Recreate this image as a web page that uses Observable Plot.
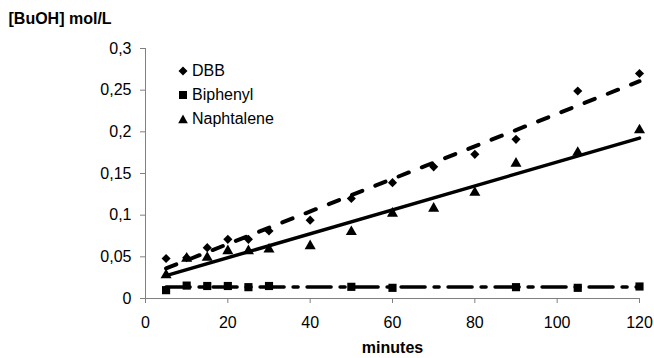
<!DOCTYPE html>
<html>
<head>
<meta charset="utf-8">
<script src="https://cdn.jsdelivr.net/npm/d3@7"></script>
<script src="https://cdn.jsdelivr.net/npm/@observablehq/plot@0.6"></script>
<style>
  html, body { margin: 0; padding: 0; background: #fff; }
  #wrap { position: relative; width: 654px; height: 358px; font-family: "Liberation Sans", Arial, sans-serif; }
  #legend { position: absolute; left: 178px; top: 59px; font-size: 16px; color: #000; }
  #legend .row { display: flex; align-items: center; height: 24px; }
  #legend svg { margin-right: 4px; }
</style>
</head>
<body>
<div id="wrap"><div id="legend"></div></div>
<script>
const minutesDBB = [5, 10, 15, 20, 25, 30, 40, 50, 60, 70, 80, 90, 105, 120];
const valuesDBB = [0.048, 0.049, 0.061, 0.071, 0.071, 0.081, 0.094, 0.120, 0.139, 0.158, 0.173, 0.191, 0.249, 0.270];

const minutesBiphenyl = [5, 10, 15, 20, 25, 30, 50, 60, 90, 105, 120];
const valuesBiphenyl = [0.010, 0.0155, 0.015, 0.015, 0.0136, 0.015, 0.014, 0.0128, 0.0136, 0.0128, 0.0144];

const minutesNaph = [5, 10, 15, 20, 25, 30, 40, 50, 60, 70, 80, 90, 105, 120];
const valuesNaph = [0.028, 0.048, 0.049, 0.057, 0.057, 0.059, 0.063, 0.080, 0.102, 0.108, 0.127, 0.162, 0.175, 0.202];

const seriesNames = ["DBB", "Biphenyl", "Naphtalene"];
const xTicks = [0, 20, 40, 60, 80, 100, 120];
const yTicks = [0, 0.05, 0.1, 0.15, 0.2, 0.25, 0.3];
const yTitle = "[BuOH] mol/L";
const xTitle = "minutes";

const dbb = minutesDBB.map((m, i) => ({m, v: valuesDBB[i]}));
const bip = minutesBiphenyl.map((m, i) => ({m, v: valuesBiphenyl[i]}));
const nap = minutesNaph.map((m, i) => ({m, v: valuesNaph[i]}));

const fmt = d => String(d).replace(".", ",");
const axisGray = "#808080";

const chart = Plot.plot({
  width: 654,
  height: 358,
  marginLeft: 145,
  marginRight: 15,
  marginTop: 48,
  marginBottom: 60,
  style: {fontFamily: "Liberation Sans, Arial, sans-serif", fontSize: "16px", color: "#000", background: "#fff"},
  x: {domain: [0, 120]},
  y: {domain: [0, 0.3]},
  marks: [
    Plot.ruleX([0], {stroke: axisGray}),
    Plot.ruleY([0], {stroke: axisGray}),
    Plot.axisX({ticks: xTicks, tickSize: 5, stroke: axisGray, tickFormat: () => "", label: null}),
    Plot.axisX({ticks: xTicks, tickSize: 0, tickPadding: 18, fontSize: 16, tickFormat: fmt, label: null}),
    Plot.axisY({ticks: yTicks, tickSize: 5, stroke: axisGray, tickFormat: () => "", label: null}),
    Plot.axisY({ticks: yTicks, tickSize: 0, tickPadding: 14, fontSize: 16, tickFormat: fmt, label: null}),
    Plot.linearRegressionY(dbb, {x: "m", y: "v", ci: 0, stroke: "#000", strokeWidth: 4, strokeDasharray: "11,14"}),
    Plot.linearRegressionY(nap, {x: "m", y: "v", ci: 0, stroke: "#000", strokeWidth: 3.5}),
    Plot.linearRegressionY(bip, {x: "m", y: "v", ci: 0, stroke: "#000", strokeWidth: 3.5, strokeDasharray: "24,9,5,9"}),
    Plot.dot(dbb, {x: "m", y: "v", symbol: "diamond2", r: 4.1, fill: "#000", stroke: "none"}),
    Plot.dot(bip, {x: "m", y: "v", symbol: "square", r: 4.6, fill: "#000", stroke: "none"}),
    Plot.dot(nap, {x: "m", y: "v", symbol: "triangle", r: 4.1, fill: "#000", stroke: "none"}),
    Plot.text([yTitle], {text: d => d, frameAnchor: "top-left", textAnchor: "start", lineAnchor: "middle", dx: -137, dy: -30, fontWeight: "bold", fontSize: 16}),
    Plot.text([xTitle], {text: d => d, frameAnchor: "bottom", lineAnchor: "middle", dy: 49, fontWeight: "bold", fontSize: 16})
  ]
});
document.getElementById("wrap").prepend(chart);
chart.style.position = "absolute";
chart.style.left = "0";
chart.style.top = "0";

const shapes = [
  '<path d="M5,0.5 L9.5,5 L5,9.5 L0.5,5 Z"/>',
  '<rect x="1" y="1" width="8" height="8"/>',
  '<path d="M5,0.5 L9.8,9.2 L0.2,9.2 Z"/>'
];
const legend = document.getElementById("legend");
seriesNames.forEach((name, i) => {
  const row = document.createElement("div");
  row.className = "row";
  row.innerHTML = `<svg width="10" height="10" viewBox="0 0 10 10" fill="#000">${shapes[i]}</svg><span>${name}</span>`;
  legend.appendChild(row);
});
</script>
</body>
</html>
